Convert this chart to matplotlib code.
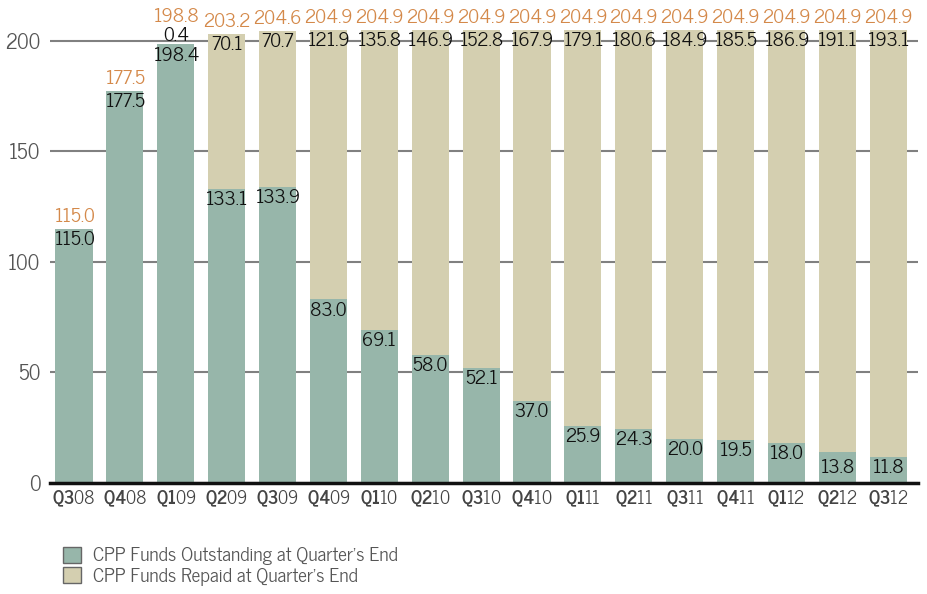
import matplotlib
matplotlib.use('Agg')
import matplotlib.pyplot as plt
import numpy as np

# quarter labels (bold part, year part)
quarters = ['Q3', 'Q4', 'Q1', 'Q2', 'Q3', 'Q4', 'Q1', 'Q2', 'Q3', 'Q4', 'Q1', 'Q2', 'Q3', 'Q4', 'Q1', 'Q2', 'Q3']
years = ['08', '08', '09', '09', '09', '09', '10', '10', '10', '10', '11', '11', '11', '11', '12', '12', '12']

outstanding = [115.0, 177.5, 198.4, 133.1, 133.9, 83.0, 69.1, 58.0, 52.1, 37.0,
               25.9, 24.3, 20.0, 19.5, 18.0, 13.8, 11.8]
repaid = [0, 0, 0.4, 70.1, 70.7, 121.9, 135.8, 146.9, 152.8, 167.9,
          179.1, 180.6, 184.9, 185.5, 186.9, 191.1, 193.1]
totals = [115.0, 177.5, 198.8, 203.2, 204.6, 204.9, 204.9, 204.9, 204.9, 204.9,
          204.9, 204.9, 204.9, 204.9, 204.9, 204.9, 204.9]

green = '#97b6aa'
tan = '#d4cfb0'
orange = '#d4894a'

plt.rcParams['font.family'] = ['News Cycle', 'DejaVu Sans']
plt.rcParams['mathtext.fontset'] = 'custom'
plt.rcParams['mathtext.bf'] = 'News Cycle:bold'
plt.rcParams['mathtext.rm'] = 'News Cycle'

fig = plt.figure(figsize=(9.27, 5.94), dpi=100)
ax = fig.add_axes([0.054, 0.187, 0.936, 0.813])

x = np.arange(len(outstanding))
w = 0.73
ax.bar(x, outstanding, width=w, color=green, zorder=2, label="CPP Funds Outstanding at Quarter\u2019s End")
ax.bar(x, repaid, width=w, bottom=outstanding, color=tan, zorder=2, label="CPP Funds Repaid at Quarter\u2019s End")

fs = 14
for i in x:
    if outstanding[i] < 15:
        # small bars: label sits just above the baseline
        ax.annotate('%.1f' % outstanding[i], (i, 0), xytext=(0, 4), textcoords='offset points',
                    ha='center', va='bottom', fontsize=fs, color='#111111', zorder=3)
    else:
        ax.annotate('%.1f' % outstanding[i], (i, outstanding[i]), xytext=(0, -1.5), textcoords='offset points',
                    ha='center', va='top', fontsize=fs, color='#111111', zorder=3)
    if repaid[i] == 0:
        ax.annotate('%.1f' % totals[i], (i, totals[i]), xytext=(0, 2), textcoords='offset points',
                    ha='center', va='bottom', fontsize=fs, color=orange, zorder=3)
    elif repaid[i] < 5:
        ax.annotate('%.1f' % repaid[i], (i, totals[i]), xytext=(0, -1), textcoords='offset points',
                    ha='center', va='bottom', fontsize=fs, color='#111111', zorder=3)
        ax.annotate('%.1f' % totals[i], (i, totals[i]), xytext=(0, 12.5), textcoords='offset points',
                    ha='center', va='bottom', fontsize=fs, color=orange, zorder=3)
    else:
        ax.annotate('%.1f' % repaid[i], (i, totals[i]), xytext=(0, -1.5), textcoords='offset points',
                    ha='center', va='top', fontsize=fs, color='#111111', zorder=3)
        ax.annotate('%.1f' % totals[i], (i, totals[i]), xytext=(0, 2), textcoords='offset points',
                    ha='center', va='bottom', fontsize=fs, color=orange, zorder=3)

ax.set_xlim(-0.47, 16.58)
ax.set_ylim(0, 218.5)
ax.set_yticks([0, 50, 100, 150, 200])
ax.yaxis.grid(True, color='#808080', linewidth=1.5, zorder=1)
ax.set_axisbelow(True)
for s in ['top', 'right', 'left']:
    ax.spines[s].set_visible(False)
ax.spines['bottom'].set_color('#111111')
ax.spines['bottom'].set_linewidth(2.5)
ax.spines['bottom'].set_zorder(4)
ax.tick_params(axis='both', length=0)
ax.tick_params(axis='y', labelsize=15, labelcolor='#555555', pad=7)
ax.tick_params(axis='x', labelsize=13, labelcolor='#444444', pad=4)
ax.set_xticks(x)
ax.set_xticklabels([r'$\mathbf{%s}$%s' % (q, y) for q, y in zip(quarters, years)])

leg = fig.legend(loc='upper left', bbox_to_anchor=(0.06, 0.093), frameon=False,
                 fontsize=14, handlelength=0.9, handleheight=0.9, handletextpad=0.6,
                 labelspacing=0.1, borderaxespad=0)
for h in leg.legend_handles:
    h.set_edgecolor('#666666')
    h.set_linewidth(1)
for t in leg.get_texts():
    t.set_color('#555555')

plt.savefig('out.png', dpi=100)
